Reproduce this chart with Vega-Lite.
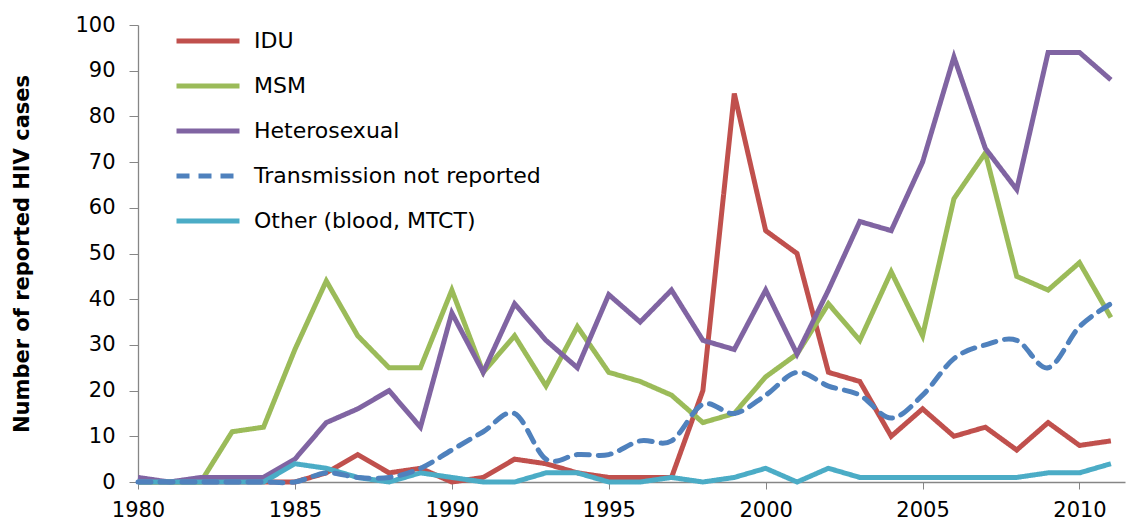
{
  "$schema": "https://vega.github.io/schema/vega-lite/v6.json",
  "autosize": {"type": "none"},
  "width": 987,
  "height": 457,
  "padding": {"left": 138, "top": 25, "right": 3, "bottom": 43},
  "background": "white",
  "config": {"view": {"stroke": null}, "font": "DejaVu Sans"},
  "datasets": {
    "wide": [
      {"year": 1980, "IDU": 0, "MSM": 0, "Het": 1, "TNR": 0, "Other": 0},
      {"year": 1981, "IDU": 0, "MSM": 0, "Het": 0, "TNR": 0, "Other": 0},
      {"year": 1982, "IDU": 0, "MSM": 0, "Het": 1, "TNR": 0, "Other": 0},
      {"year": 1983, "IDU": 0, "MSM": 11, "Het": 1, "TNR": 0, "Other": 0},
      {"year": 1984, "IDU": 0, "MSM": 12, "Het": 1, "TNR": 0, "Other": 0},
      {"year": 1985, "IDU": 0, "MSM": 29, "Het": 5, "TNR": 0, "Other": 4},
      {"year": 1986, "IDU": 2, "MSM": 44, "Het": 13, "TNR": 2, "Other": 3},
      {"year": 1987, "IDU": 6, "MSM": 32, "Het": 16, "TNR": 1, "Other": 1},
      {"year": 1988, "IDU": 2, "MSM": 25, "Het": 20, "TNR": 1, "Other": 0},
      {"year": 1989, "IDU": 3, "MSM": 25, "Het": 12, "TNR": 3, "Other": 2},
      {"year": 1990, "IDU": 0, "MSM": 42, "Het": 37, "TNR": 7, "Other": 1},
      {"year": 1991, "IDU": 1, "MSM": 24, "Het": 24, "TNR": 11, "Other": 0},
      {"year": 1992, "IDU": 5, "MSM": 32, "Het": 39, "TNR": 15, "Other": 0},
      {"year": 1993, "IDU": 4, "MSM": 21, "Het": 31, "TNR": 5, "Other": 2},
      {"year": 1994, "IDU": 2, "MSM": 34, "Het": 25, "TNR": 6, "Other": 2},
      {"year": 1995, "IDU": 1, "MSM": 24, "Het": 41, "TNR": 6, "Other": 0},
      {"year": 1996, "IDU": 1, "MSM": 22, "Het": 35, "TNR": 9, "Other": 0},
      {"year": 1997, "IDU": 1, "MSM": 19, "Het": 42, "TNR": 9, "Other": 1},
      {"year": 1998, "IDU": 20, "MSM": 13, "Het": 31, "TNR": 17, "Other": 0},
      {"year": 1999, "IDU": 85, "MSM": 15, "Het": 29, "TNR": 15, "Other": 1},
      {"year": 2000, "IDU": 55, "MSM": 23, "Het": 42, "TNR": 19, "Other": 3},
      {"year": 2001, "IDU": 50, "MSM": 28, "Het": 28, "TNR": 24, "Other": 0},
      {"year": 2002, "IDU": 24, "MSM": 39, "Het": 42, "TNR": 21, "Other": 3},
      {"year": 2003, "IDU": 22, "MSM": 31, "Het": 57, "TNR": 19, "Other": 1},
      {"year": 2004, "IDU": 10, "MSM": 46, "Het": 55, "TNR": 14, "Other": 1},
      {"year": 2005, "IDU": 16, "MSM": 32, "Het": 70, "TNR": 19, "Other": 1},
      {"year": 2006, "IDU": 10, "MSM": 62, "Het": 93, "TNR": 27, "Other": 1},
      {"year": 2007, "IDU": 12, "MSM": 72, "Het": 73, "TNR": 30, "Other": 1},
      {"year": 2008, "IDU": 7, "MSM": 45, "Het": 64, "TNR": 31, "Other": 1},
      {"year": 2009, "IDU": 13, "MSM": 42, "Het": 94, "TNR": 25, "Other": 2},
      {"year": 2010, "IDU": 8, "MSM": 48, "Het": 94, "TNR": 34, "Other": 2},
      {"year": 2011, "IDU": 9, "MSM": 36, "Het": 88, "TNR": 39, "Other": 4}
    ]
  },
  "data": {"name": "wide"},
  "transform": [
    {"fold": ["IDU", "MSM", "Het", "TNR", "Other"], "as": ["key", "cases"]},
    {"lookup": "key", "from": {"data": {"values": [
      {"key": "IDU", "group": "IDU"},
      {"key": "MSM", "group": "MSM"},
      {"key": "Het", "group": "Heterosexual"},
      {"key": "TNR", "group": "Transmission not reported"},
      {"key": "Other", "group": "Other (blood, MTCT)"}
    ]}, "key": "key", "fields": ["group"]}}
  ],
  "encoding": {
    "x": {"field": "year", "type": "quantitative",
      "scale": {"domain": [1980, 2011.45], "nice": false, "zero": false},
      "axis": {"title": null, "values": [1980, 1985, 1990, 1995, 2000, 2005, 2010], "format": "d",
        "grid": false, "domainColor": "#868686", "tickColor": "#868686", "tickSize": 7,
        "labelFontSize": 21, "labelColor": "#000000", "labelPadding": 10, "domainWidth": 1.3,
        "labelFlush": false, "labelOverlap": false}},
    "y": {"field": "cases", "type": "quantitative",
      "scale": {"domain": [0, 100], "nice": false},
      "axis": {"title": "Number of reported HIV cases", "values": [0,10,20,30,40,50,60,70,80,90,100],
        "grid": false, "domainColor": "#868686", "tickColor": "#868686", "tickSize": 9,
        "labelFontSize": 21, "labelColor": "#000000", "labelPadding": 14, "domainWidth": 1.3,
        "labelFlush": false, "labelOverlap": false,
        "titleFontSize": 21, "titleFontWeight": "bold", "titleColor": "#000000", "titlePadding": 42}},
    "strokeDash": {"field": "group", "type": "nominal",
      "scale": {"domain": ["IDU", "MSM", "Heterosexual", "Transmission not reported", "Other (blood, MTCT)"],
                "range": [[1, 0], [1, 0], [1, 0], [13, 9], [1, 0]]}},
    "color": {"field": "group", "type": "nominal",
      "scale": {"domain": ["IDU", "MSM", "Heterosexual", "Transmission not reported", "Other (blood, MTCT)"],
                "range": ["#C0504D", "#9BBB59", "#8064A2", "#4F81BD", "#4BACC6"]},
      "legend": {"title": null, "orient": "none", "legendX": 36, "legendY": -18,
        "symbolType": "stroke", "symbolSize": 3969, "symbolStrokeWidth": 5,
        "labelFontSize": 22, "labelColor": "#000000", "rowPadding": 0, "labelOffset": 12,
        "labelLimit": 400}}
  },
  "layer": [
    {
      "transform": [{"filter": "datum.key !== 'TNR'"}],
      "mark": {"type": "line", "strokeWidth": 5, "strokeCap": "butt", "strokeJoin": "miter"}
    },
    {
      "transform": [{"filter": "datum.key === 'TNR'"}],
      "mark": {"type": "line", "strokeWidth": 5, "strokeCap": "round", "interpolate": "cardinal"}
    }
  ]
}
